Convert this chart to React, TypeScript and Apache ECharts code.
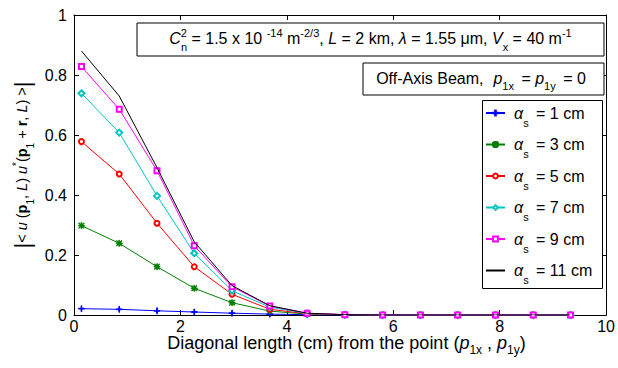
import React, { useEffect, useRef } from 'react';
import * as echarts from 'echarts';

// Diagonal distance (cm) of each sample point from (p1x, p1y)
const xDiag = [0.14, 0.85, 1.56, 2.26, 2.97, 3.68, 4.38, 5.09, 5.8, 6.51, 7.21, 7.92, 8.63, 9.33];

// Beam size labels (alpha_s)
const beamSizes = ['1 cm', '3 cm', '5 cm', '7 cm', '9 cm', '11 cm'];

// |<u u*>| correlation values for each beam size
const corrA1 = [0.021, 0.019, 0.014, 0.01, 0.006, 0.003, 0.001, 0, 0, 0, 0, 0, 0, 0];
const corrA3 = [0.298, 0.239, 0.161, 0.089, 0.041, 0.013, 0.003, 0.001, 0, 0, 0, 0, 0, 0];
const corrA5 = [0.578, 0.47, 0.306, 0.161, 0.069, 0.019, 0.004, 0.001, 0, 0, 0, 0, 0, 0];
const corrA7 = [0.739, 0.608, 0.397, 0.206, 0.081, 0.026, 0.005, 0.001, 0, 0, 0, 0, 0, 0];
const corrA9 = [0.828, 0.686, 0.481, 0.231, 0.094, 0.03, 0.006, 0.001, 0, 0, 0, 0, 0, 0];
const corrA11 = [0.88, 0.73, 0.491, 0.244, 0.098, 0.031, 0.006, 0.001, 0, 0, 0, 0, 0, 0];

const xTicks = [0, 2, 4, 6, 8, 10];
const yTicks = [0, 0.2, 0.4, 0.6, 0.8, 1];

const allSeries = [corrA1, corrA3, corrA5, corrA7, corrA9, corrA11];
const colors = ['#0000ff', '#008000', '#ff0000', '#00c4c4', '#ff00ff', '#000000'];
const plusPath = 'path://M0,4.4H10V5.6H0Z M4.4,0H5.6V10H4.4Z';
const starPath =
  'path://M0,4.4H10V5.6H0Z M4.4,0H5.6V10H4.4Z M1.2,0.4L9.6,8.8L8.8,9.6L0.4,1.2Z M8.8,0.4L9.6,1.2L1.2,9.6L0.4,8.8Z';
const symbols = [plusPath, starPath, 'emptyCircle', 'emptyDiamond', 'emptyRect', 'none'];
const symbolSizes = [6, 6, 5, 6, 5, 0];

const FF = '"Liberation Sans", Arial, Helvetica, sans-serif';

function richSet(
  fs: number,
  L: number,
  supH: number,
  subH: number,
  sfs: number,
  barFs = fs + 7,
  subPadR = 0
) {
  const base = { fontFamily: FF, color: '#000' };
  return {
    n: { ...base, fontSize: fs, lineHeight: L },
    i: { ...base, fontSize: fs, lineHeight: L, fontStyle: 'italic' },
    ip: { ...base, fontSize: fs, lineHeight: L, fontStyle: 'italic', padding: [0, 0, 0, 10] },
    b: { ...base, fontSize: fs, lineHeight: L, fontWeight: 'bold' },
    sup: { ...base, fontSize: sfs, height: supH, verticalAlign: 'top' },
    sup0: {
      ...base,
      fontSize: sfs,
      height: supH,
      verticalAlign: 'top',
      width: 0.1,
      padding: [0, -3, 0, 3],
    },
    sub: { ...base, fontSize: sfs, height: subH, verticalAlign: 'bottom', padding: [0, subPadR, 0, 0] },
    bar: { ...base, fontSize: barFs, lineHeight: L },
  };
}

// x-title: subscripts pushed down with top padding so that the line box stays short
function richTitle(fs: number, L: number, sfs: number, drop: number) {
  const base = { fontFamily: FF, color: '#000' };
  return {
    n: { ...base, fontSize: fs, lineHeight: L },
    i: { ...base, fontSize: fs, lineHeight: L, fontStyle: 'italic' },
    sub: { ...base, fontSize: sfs, lineHeight: L, padding: [drop * 2, 0, 0, 0] },
  };
}

function textEl(x: number, y: number, text: string, rich: any, rotation = 0) {
  return {
    type: 'text',
    x,
    y,
    rotation,
    z: 100,
    style: {
      text,
      rich,
      align: 'center',
      verticalAlign: 'middle',
      textAlign: 'center',
      textVerticalAlign: 'middle',
      fill: '#000',
    },
  };
}

export default function App() {
  const ref = useRef<HTMLDivElement>(null);
  useEffect(() => {
    if (!ref.current) return;
    const chart = echarts.init(ref.current, undefined, { renderer: 'svg' });

    const axisCommon = {
      type: 'value' as const,
      axisLine: { show: true, onZero: false, lineStyle: { color: '#000', width: 1 } },
      axisTick: { show: true, inside: true, length: 5, lineStyle: { color: '#000' } },
      splitLine: { show: false },
    };

    const series = allSeries.map((vals, k) => ({
      name: beamSizes[k],
      type: 'line',
      data: xDiag.map((x, i) => [x, vals[i]]),
      symbol: symbols[k],
      symbolSize: symbolSizes[k],
      showSymbol: symbols[k] !== 'none',
      lineStyle: { color: colors[k], width: 1 },
      itemStyle: { color: colors[k], borderColor: colors[k], borderWidth: 1 },
      z: 2 + k,
    }));

    const box1 =
      '{i|C}{sup0|2}{sub|n}{n| = 1.5 x 10 }{sup|-14}{n| m}{sup|-2/3}{n|, }{i|L}{n| = 2 km, }{i|λ}{n| = 1.55 μm, }{i|V}{sub|x}{n| = 40 m}{sup|-1}';
    const box2 = '{n|Off-Axis Beam,}{ip|p}{sub|1x}{n| = }{i|p}{sub|1y}{n| = 0}';
    const xTitle = '{n|Diagonal length (cm) from the point (}{i|p}{sub|1x}{n| , }{i|p}{sub|1y}{n|)}';
    const yTitle =
      '{bar||}{n|< }{i|u}{n| (}{b|p}{sub|1}{n|, }{i|L}{n|) }{i|u}{sup|*}{n|(}{b|p}{sub|1}{n| + }{b|r}{n|, }{i|L}{n|) >}{bar||}';

    const legendData = beamSizes.map((name, k) =>
      symbols[k] === 'none' ? { name, itemStyle: { opacity: 0 } } : { name }
    );

    chart.setOption({
      animation: false,
      backgroundColor: '#fff',
      grid: { left: 74, right: 9, top: 15, bottom: 53, containLabel: false },
      xAxis: [
        {
          ...axisCommon,
          position: 'bottom',
          min: xTicks[0],
          max: xTicks[xTicks.length - 1],
          interval: xTicks[1] - xTicks[0],
          axisLabel: { color: '#000', fontSize: 16, fontFamily: FF, margin: 4, lineHeight: 14 },
        },
        {
          ...axisCommon,
          position: 'top',
          min: xTicks[0],
          max: xTicks[xTicks.length - 1],
          interval: xTicks[1] - xTicks[0],
          axisLabel: { show: false },
        },
      ],
      yAxis: [
        {
          ...axisCommon,
          position: 'left',
          min: yTicks[0],
          max: yTicks[yTicks.length - 1],
          interval: 0.2,
          axisLabel: {
            color: '#000',
            fontSize: 16,
            fontFamily: FF,
            margin: 7,
            formatter: (v: number) => String(Math.round(v * 10) / 10),
          },
        },
        {
          ...axisCommon,
          position: 'right',
          min: yTicks[0],
          max: yTicks[yTicks.length - 1],
          interval: 0.2,
          axisLabel: { show: false },
        },
      ],
      legend: {
        orient: 'vertical',
        left: 485,
        top: 105,
        itemWidth: 19,
        itemHeight: 6,
        itemGap: 8.5,
        padding: 0,
        borderWidth: 0,
        z: 110,
        data: legendData,
        formatter: (name: string) => `{a|α}{s|s}{t| = ${name}}`,
        textStyle: {
          fontFamily: FF,
          fontSize: 16,
          color: '#000',
          rich: {
            a: { fontFamily: FF, fontSize: 16, fontStyle: 'italic', lineHeight: 28, padding: [0, 0, 0, 4] },
            s: { fontFamily: FF, fontSize: 11, height: 9, verticalAlign: 'bottom', padding: [0, 3, 0, 0] },
            t: { fontFamily: FF, fontSize: 16, lineHeight: 28 },
          },
        },
      },
      graphic: [
        {
          type: 'rect',
          z: 90,
          shape: { x: 137, y: 23, width: 467, height: 33 },
          style: { fill: '#fff', stroke: '#000', lineWidth: 1 },
        },
        {
          type: 'rect',
          z: 90,
          shape: { x: 363, y: 63, width: 241, height: 32 },
          style: { fill: '#fff', stroke: '#000', lineWidth: 1 },
        },
        {
          type: 'rect',
          z: 90,
          shape: { x: 482.5, y: 100.5, width: 120, height: 188 },
          style: { fill: '#fff', stroke: '#000', lineWidth: 1 },
        },
        textEl(370.5, 38, box1, richSet(16, 30, 19.8, 11.6, 11)),
        textEl(481, 78, box2, richSet(16, 30, 19.8, 14, 11, 23, 3)),
        textEl(346.5, 343, xTitle, richTitle(18, 18, 12, 7)),
        textEl(22, 165, yTitle, richSet(14.5, 28, 17, 10.6, 10, 22), Math.PI / 2),
      ],
      series,
    });
    return () => chart.dispose();
  }, []);
  return (
    <div
      ref={ref}
      style={{ position: 'fixed', left: 0, top: 0, width: 618, height: 368, background: '#fff' }}
    />
  );
}
